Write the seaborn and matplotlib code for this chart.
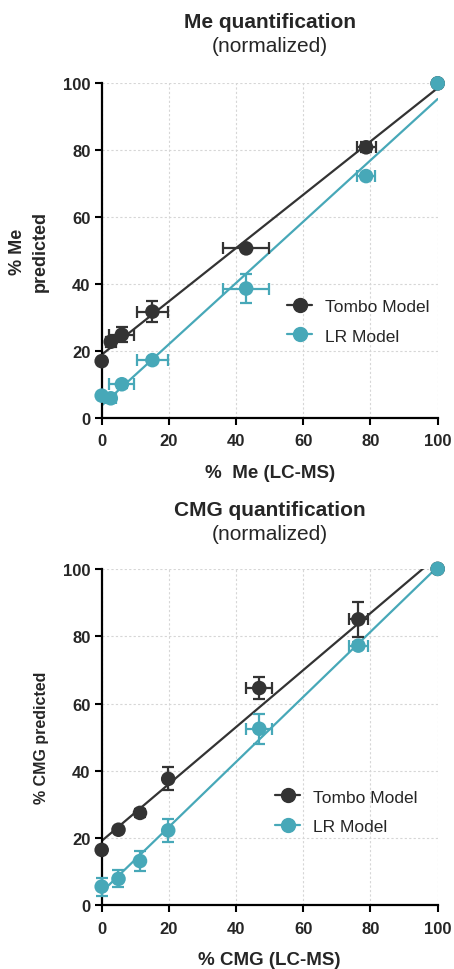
import numpy as np
import pandas as pd
import seaborn as sns
import matplotlib
matplotlib.use("Agg")
import matplotlib.pyplot as plt
from matplotlib.lines import Line2D

# ---- data ----
me_x = [0, 2.7, 6, 15.1, 43, 78.7, 100]
me_xerr_tombo = [0, 1.5, 3.7, 4.6, 6.8, 2.8, 0]
me_tombo_y = [17, 22.8, 24.9, 31.8, 50.7, 80.9, 100]
me_tombo_yerr = [0, 1.5, 2.2, 3.2, 0.5, 1.5, 0]
me_lr_y = [6.7, 5.9, 10.1, 17.3, 38.7, 72.3, 100]
me_xerr_lr = [0, 1.5, 3.7, 4.6, 6.8, 2.6, 0]
me_lr_yerr = [0, 1.0, 1.0, 0.5, 4.2, 1.0, 0]

cmg_x = [0, 5, 11.4, 19.8, 46.9, 76.4, 100]
cmg_tombo_y = [16.5, 22.5, 27.5, 37.6, 64.6, 85.0, 100]
cmg_tombo_xerr = [0, 0, 0, 0.5, 3.8, 2.9, 0]
cmg_tombo_yerr = [0, 0.5, 1.2, 3.4, 3.4, 5.2, 0]
cmg_lr_y = [5.6, 7.9, 13.2, 22.3, 52.5, 77.2, 100]
cmg_lr_xerr = [0, 0, 0, 0, 3.8, 2.9, 0]
cmg_lr_yerr = [2.7, 2.5, 3.1, 3.5, 4.4, 1.0, 0]

ticks = [0, 20, 40, 60, 80, 100]
series_names = ["Tombo Model", "LR Model"]

DARK = "#333333"
CYAN = "#47A8B8"

sns.set_style("whitegrid", {"grid.color": "#d6d6d6", "grid.linestyle": (0, (2, 2)),
                            "axes.edgecolor": "black"})
plt.rcParams["font.family"] = ["Liberation Sans", "DejaVu Sans"]
plt.rcParams["grid.linewidth"] = 0.8

W, H = 454, 970
fig = plt.figure(figsize=(W / 100, H / 100), dpi=100)
ax1 = fig.add_axes([0.224, 0.568, 0.740, 0.345])
ax2 = fig.add_axes([0.224, 0.0655, 0.740, 0.347])


def draw(ax, x, ty, txerr, tyerr, ly, lxerr, lyerr, title, title_y, xlabel, ylabel,
         ylabel_size, leg_anchor):
    for y, xe, ye, c in [(ty, txerr, tyerr, DARK), (ly, lxerr, lyerr, CYAN)]:
        sns.regplot(x=np.array(x), y=np.array(y), ax=ax, scatter=False, ci=None,
                    truncate=True, color=c, line_kws={"lw": 1.6, "zorder": 2})
        ax.errorbar(x, y, xerr=xe, yerr=ye, fmt="none", ecolor=c, elinewidth=1.6,
                    capsize=4, capthick=1.6, zorder=3, clip_on=False)
        sns.scatterplot(x=x, y=y, ax=ax, color=c, s=110, edgecolor="none",
                        zorder=4, clip_on=False, legend=False)
    ax.set_xlim(0, 100)
    ax.set_ylim(0, 100)
    ax.set_xticks(ticks)
    ax.set_yticks(ticks)
    for lab in ax.get_xticklabels() + ax.get_yticklabels():
        lab.set_fontweight("bold")
    ax.tick_params(axis="both", which="both", direction="out", length=5, width=1.5,
                   labelsize=12, color="black", bottom=True, left=True, pad=3)
    ax.tick_params(axis="x", pad=6)
    for s in ["top", "right"]:
        ax.spines[s].set_visible(False)
    for s in ["left", "bottom"]:
        ax.spines[s].set_linewidth(1.6)
        ax.spines[s].set_color("black")
    ax.set_xlabel(xlabel, fontsize=13.5, fontweight="bold", labelpad=11)
    ax.set_ylabel(ylabel, fontsize=ylabel_size, fontweight="bold", labelpad=10,
                  linespacing=1.45)
    fig.text(0.594, 1 - title_y / H, title, ha="center", va="center",
             fontsize=15, fontweight="bold")
    fig.text(0.594, 1 - (title_y + 24) / H, "(normalized)", ha="center",
             va="center", fontsize=15)
    handles = [Line2D([0], [0], color=DARK, lw=1.6, marker="o", markersize=10),
               Line2D([0], [0], color=CYAN, lw=1.6, marker="o", markersize=10)]
    ax.legend(handles, series_names, loc="center left", bbox_to_anchor=leg_anchor,
              frameon=False, fontsize=12.5, handlelength=1.45, labelspacing=0.85,
              handletextpad=0.75, borderpad=0.4)


draw(ax1, me_x, me_tombo_y, me_xerr_tombo, me_tombo_yerr, me_lr_y, me_xerr_lr,
     me_lr_yerr, "Me quantification", 22, "%  Me (LC-MS)", "% Me\npredicted", 13,
     (0.505, 0.29))
draw(ax2, cmg_x, cmg_tombo_y, cmg_tombo_xerr, cmg_tombo_yerr, cmg_lr_y, cmg_lr_xerr,
     cmg_lr_yerr, "CMG quantification", 511, "% CMG (LC-MS)", "% CMG predicted", 11.5,
     (0.47, 0.278))

fig.savefig("out.png", dpi=100)
